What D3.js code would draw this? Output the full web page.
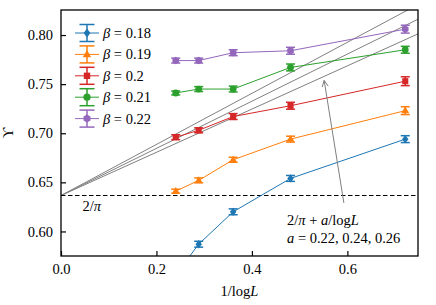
<!DOCTYPE html>
<html>
<head>
<meta charset="utf-8">
<script src="https://cdn.jsdelivr.net/npm/d3@7"></script>
<style>
body{margin:0;background:#fff;}
svg text{font-family:"Liberation Serif","Times New Roman",serif;fill:#000;}
</style>
</head>
<body>
<div id="root"></div>
<script>
// data
var invLogL=[0.2404,0.2885,0.3607,0.4809,0.7213];
var betas=['0.18','0.19','0.2','0.21','0.22'];
var y018=[0.556,0.587,0.620,0.654,0.694];
var y019=[0.641,0.652,0.673,0.694,0.723];
var y020=[0.696,0.703,0.717,0.728,0.753];
var y021=[0.741,0.745,0.745,0.767,0.785];
var y022=[0.774,0.774,0.782,0.784,0.806];
var e018=[0.003,0.003,0.003,0.003,0.0035];
var e019=[0.002,0.0025,0.0025,0.003,0.004];
var e020=[0.0025,0.0025,0.003,0.0035,0.0045];
var e021=[0.002,0.0025,0.003,0.0035,0.0035];
var e022=[0.0025,0.0025,0.003,0.0035,0.004];
var slopes=[0.22,0.24,0.26];
var xTicks=[0.0,0.2,0.4,0.6];
var yTicks=[0.60,0.65,0.70,0.75,0.80];

var colors=['#1f77b4','#ff7f0e','#d62728','#2ca02c','#9467bd'];
var shapes=['diamond','triangle','square','circle','hexagon'];
var ys=[y018,y019,y020,y021,y022];
var es=[e018,e019,e020,e021,e022];

var W=436,H=305;
var b={t:10,r:18,b:49,l:61};
var svg=d3.select('#root').append('svg').attr('width',W).attr('height',H);

var x=d3.scaleLinear().domain([0,0.748]).range([b.l,W-b.r]);
var y=d3.scaleLinear().domain([0.575,0.8255]).range([H-b.b,b.t]);

svg.append('clipPath').attr('id','clip').append('rect')
  .attr('x',b.l).attr('y',b.t).attr('width',W-b.r-b.l).attr('height',H-b.b-b.t);

var g=svg.append('g').attr('clip-path','url(#clip)');

function markerPath(shape,r){
  if(shape=='diamond') return 'M0,'+(-r*1.1)+'L'+(r*0.85)+',0L0,'+(r*1.1)+'L'+(-r*0.85)+',0Z';
  if(shape=='triangle') return 'M0,'+(-r*1.1)+'L'+(r*1.05)+','+(r*0.7)+'L'+(-r*1.05)+','+(r*0.7)+'Z';
  if(shape=='square') return 'M'+(-r*0.8)+','+(-r*0.8)+'h'+(r*1.6)+'v'+(r*1.6)+'h'+(-r*1.6)+'Z';
  if(shape=='circle') return d3.arc()({innerRadius:0,outerRadius:r*0.9,startAngle:0,endAngle:2*Math.PI});
  var pts=d3.range(6).map(function(k){var a=Math.PI/6+k*Math.PI/3;return [Math.cos(a)*r,Math.sin(a)*r];});
  return 'M'+pts.join('L')+'Z';
}

// reference lines 2/pi + a/logL
var twoPi=2/Math.PI;
slopes.forEach(function(a){
  g.append('line').attr('x1',x(0)).attr('y1',y(twoPi))
    .attr('x2',x(0.748)).attr('y2',y(twoPi+a*0.748))
    .attr('stroke','#808080').attr('stroke-width',1);
});

// dashed 2/pi line
g.append('line').attr('x1',x(0)).attr('x2',x(0.748)).attr('y1',y(twoPi)).attr('y2',y(twoPi))
  .attr('stroke','#000').attr('stroke-width',1.2).attr('stroke-dasharray','4.5,2.5');

var line=d3.line().x(function(d){return x(d.x)}).y(function(d){return y(d.y)});
var cap=4.5;

ys.forEach(function(vals,i){
  var pts=vals.map(function(v,j){return {x:invLogL[j],y:v,e:es[i][j]}});
  var c=colors[i];
  g.append('path').attr('d',line(pts)).attr('fill','none').attr('stroke',c).attr('stroke-width',1);
  var eb=g.selectAll('.eb'+i).data(pts).enter().append('g').attr('class','eb'+i)
    .attr('transform',function(d){return 'translate('+x(d.x)+',0)'});
  eb.append('line').attr('x1',0).attr('x2',0)
    .attr('y1',function(d){return y(d.y-d.e)}).attr('y2',function(d){return y(d.y+d.e)})
    .attr('stroke',c).attr('stroke-width',1.5);
  eb.append('line').attr('x1',-cap).attr('x2',cap)
    .attr('y1',function(d){return y(d.y+d.e)}).attr('y2',function(d){return y(d.y+d.e)})
    .attr('stroke',c).attr('stroke-width',1.5);
  eb.append('line').attr('x1',-cap).attr('x2',cap)
    .attr('y1',function(d){return y(d.y-d.e)}).attr('y2',function(d){return y(d.y-d.e)})
    .attr('stroke',c).attr('stroke-width',1.5);
  g.selectAll('.mk'+i).data(pts).enter().append('path').attr('class','mk'+i)
    .attr('d',markerPath(shapes[i],3.8))
    .attr('transform',function(d){return 'translate('+x(d.x)+','+y(d.y)+')'})
    .attr('fill',c);
});

// axes
var xAxis=d3.axisBottom(x).tickValues(xTicks).tickFormat(d3.format('.1f')).tickSizeInner(-5).tickSizeOuter(0).tickPadding(8);
var yAxis=d3.axisLeft(y).tickValues(yTicks).tickFormat(d3.format('.2f')).tickSizeInner(-5).tickSizeOuter(0).tickPadding(8);
var gx=svg.append('g').attr('transform','translate(0,'+(H-b.b)+')').call(xAxis);
var gy=svg.append('g').attr('transform','translate('+b.l+',0)').call(yAxis);
[gx,gy].forEach(function(a){
  a.attr('font-family',null);
  a.select('.domain').remove();
  a.selectAll('line').attr('stroke','#000').attr('stroke-width',1.2);
  a.selectAll('text').style('font-size','14.5px').attr('fill','#000');
});

svg.append('rect').attr('x',b.l).attr('y',b.t).attr('width',W-b.r-b.l).attr('height',H-b.b-b.t)
  .attr('fill','none').attr('stroke','#000').attr('stroke-width',1.3);

// axis labels
svg.append('text').attr('x',(b.l+W-b.r)/2).attr('y',296).attr('text-anchor','middle').style('font-size','14.5px')
  .html('1/log<tspan font-style="italic">L</tspan>');
svg.append('text').attr('transform','translate(13,'+((b.t+H-b.b)/2)+') rotate(-90)')
  .attr('text-anchor','middle').style('font-size','15px').text('\u03D2');

// annotations
svg.append('text').attr('x',x(0.045)).attr('y',211).style('font-size','14.5px')
  .html('2/<tspan font-style="italic">\u03C0</tspan>');
svg.append('text').attr('x',287).attr('y',225).style('font-size','14.5px')
  .html('2/<tspan font-style="italic">\u03C0</tspan> + <tspan font-style="italic">a</tspan>/log<tspan font-style="italic">L</tspan>');
svg.append('text').attr('x',287).attr('y',243).style('font-size','14.5px')
  .html('<tspan font-style="italic">a</tspan> = 0.22, 0.24, 0.26');

// arrow
var ax0=x(0.5927),ay0=y(0.629),ax1=x(0.5514),ay1=y(0.7538);
svg.append('line').attr('x1',ax0).attr('y1',ay0).attr('x2',ax1).attr('y2',ay1)
  .attr('stroke','#808080').attr('stroke-width',1);
var ang=Math.atan2(ay0-ay1,ax0-ax1);
[0.45,-0.45].forEach(function(da){
  svg.append('line').attr('x1',ax1).attr('y1',ay1)
    .attr('x2',ax1+7*Math.cos(ang+da)).attr('y2',ay1+7*Math.sin(ang+da))
    .attr('stroke','#808080').attr('stroke-width',1);
});

// legend
var lg=svg.append('g').selectAll('g').data(betas).enter().append('g')
  .attr('transform',function(d,i){return 'translate(87,'+(33+i*21.4)+')'});
lg.append('line').attr('x1',-12).attr('x2',12).attr('y1',0).attr('y2',0)
  .attr('stroke',function(d,i){return colors[i]}).attr('stroke-width',1);
lg.append('line').attr('x1',0).attr('x2',0).attr('y1',-8.5).attr('y2',8.5)
  .attr('stroke',function(d,i){return colors[i]}).attr('stroke-width',1.5);
[-8.5,8.5].forEach(function(dy){
  lg.append('line').attr('x1',-7.5).attr('x2',7.5).attr('y1',dy).attr('y2',dy)
    .attr('stroke',function(d,i){return colors[i]}).attr('stroke-width',1.5);
});
lg.append('path').attr('d',function(d,i){return markerPath(shapes[i],4)})
  .attr('fill',function(d,i){return colors[i]});
lg.append('text').attr('x',16).attr('y',5).style('font-size','14.5px')
  .html(function(d){return '<tspan font-style="italic">\u03B2</tspan> = '+d});
</script>
</body>
</html>
